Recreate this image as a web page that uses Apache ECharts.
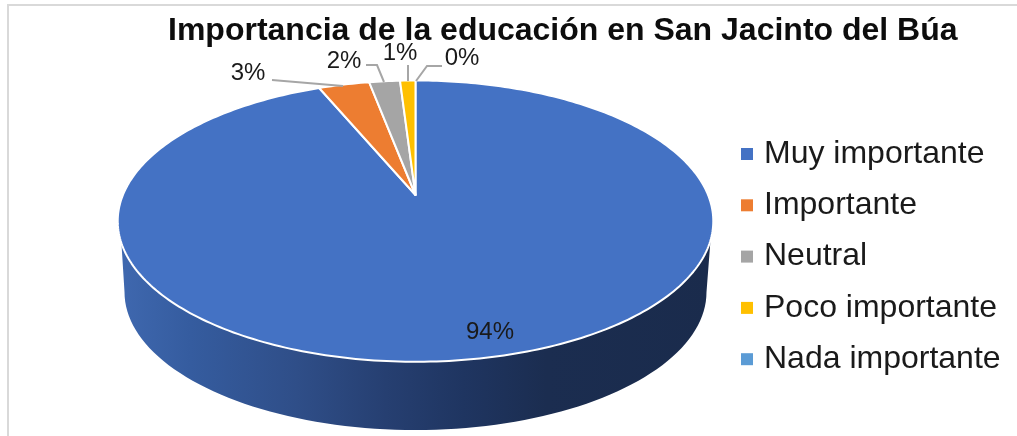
<!DOCTYPE html>
<html>
<head>
<meta charset="utf-8">
<style>html,body{margin:0;padding:0;background:#fff}#c{width:1017px;height:436px}</style>
<script src="https://cdn.jsdelivr.net/npm/echarts@6/dist/echarts.min.js"></script>
</head>
<body>
<div id="c"></div>
<script>
// Data
const titleText = 'Importancia de la educación en San Jacinto del Búa';
const categories = ['Muy importante', 'Importante', 'Neutral', 'Poco importante', 'Nada importante'];
const values = [93.7, 3.3, 2.0, 1.0, 0];

// Style
const colors = ['#4472C4', '#ED7D31', '#A5A5A5', '#FFC000', '#5B9BD5'];
const FONT = '"Liberation Sans", Arial, sans-serif';

// Perspective projection of the pie disc
const P = {cx: 415.5, cy: 195, a: 0.1857, b: 135.8, c: 292.6};
const LOWER = {cx: 415.5, cy: 292, rx: 291, ry: 138};
const WALL_FROM = 108.3, WALL_TO = 250.5;
function project(deg) {
  const t = deg * Math.PI / 180, u = Math.sin(t), v = Math.cos(t), w = 1 + P.a * v;
  return [P.cx + P.c * u / w, P.cy - P.b * v / w];
}
function arc(from, to) {
  const pts = [], n = Math.max(2, Math.ceil(Math.abs(to - from)));
  for (let i = 0; i <= n; i++) pts.push(project(from + (to - from) * i / n));
  return pts;
}

// Data-label placement and leader lines, in slice order
const labelLayout = [
  {x: 490, y: 332, line: null},
  {x: 248, y: 73, line: [[272, 80], [343, 86]]},
  {x: 344, y: 61, line: [[366, 65], [377, 65], [384, 82]]},
  {x: 400, y: 53, line: [[408, 65], [408, 81]]},
  {x: 462, y: 58, line: [[442, 66], [427, 66], [416, 81]]}
];

const total = values.reduce((s, v) => s + v, 0);
const starts = [];
values.reduce((s, v, i) => { starts[i] = s; return s + v; }, 0);

function wallGradient() {
  return new echarts.graphic.LinearGradient(119, 0, 713, 0, [
    {offset: 0, color: '#3F68AF'},
    {offset: 0.12, color: '#355C9F'},
    {offset: 0.3, color: '#2F4E88'},
    {offset: 0.45, color: '#263F71'},
    {offset: 0.58, color: '#1F3561'},
    {offset: 0.72, color: '#1B2D50'},
    {offset: 1, color: '#1A2B4C'}
  ], true);
}

function renderSlice(index) {
  return function (params, api) {
    const value = api.value(0);
    const from = starts[index] / total * 360;
    const to = from + value / total * 360;
    const children = [];
    const wf = Math.max(from, WALL_FROM), wt = Math.min(to, WALL_TO);
    if (wt > wf) {
      const pts = arc(wf, wt);
      for (let i = 0; i <= 180; i += 2) {
        const t = (180 - i) * Math.PI / 180;
        pts.push([LOWER.cx + LOWER.rx * Math.cos(t), LOWER.cy + LOWER.ry * Math.sin(t)]);
      }
      children.push({type: 'polygon', shape: {points: pts}, style: {fill: wallGradient()}, silent: true});
    }
    if (value > 0) {
      children.push({
        type: 'polygon',
        shape: {points: [project(from)].concat(arc(from, to), [[P.cx, P.cy]])},
        style: {fill: colors[index], stroke: '#fff', lineWidth: 2, lineJoin: 'round'}
      });
    }
    const lay = labelLayout[index];
    if (lay.line) {
      children.push({type: 'polyline', shape: {points: lay.line},
        style: {fill: null, stroke: '#A6A6A6', lineWidth: 2}, z2: 5});
    }
    children.push({type: 'text', x: lay.x, y: lay.y, z2: 6,
      style: {text: Math.round(value) + '%', fill: '#1a1a1a', font: '24px ' + FONT, align: 'center', verticalAlign: 'middle'}});
    return {type: 'group', children};
  };
}

const chart = echarts.init(document.getElementById('c'), null, {renderer: 'canvas'});
chart.setOption({
  animation: false,
  backgroundColor: '#fff',
  color: colors,
  title: {
    text: titleText, left: 163, top: 10,
    textStyle: {fontFamily: FONT, fontWeight: 'bold', fontSize: 32, color: '#0d0d0d'}
  },
  legend: {
    orient: 'vertical', left: 741, top: 138, padding: 0, icon: 'rect',
    itemWidth: 12, itemHeight: 12, itemGap: 19.3,
    data: categories,
    selectedMode: false,
    textStyle: {fontFamily: FONT, fontSize: 32, lineHeight: 30, color: '#1a1a1a', padding: [0, 0, 0, 6]}
  },
  graphic: [
    {type: 'line', shape: {x1: 8, y1: 4, x2: 8, y2: 436}, style: {stroke: '#D9D9D9', lineWidth: 2}, silent: true},
    {type: 'line', shape: {x1: 7, y1: 5, x2: 1017, y2: 5}, style: {stroke: '#D9D9D9', lineWidth: 2}, silent: true}
  ],
  series: categories.map((name, i) => ({
    type: 'custom',
    name,
    coordinateSystem: 'none',
    data: [[values[i]]],
    renderItem: renderSlice(i)
  }))
});
</script>
</body>
</html>
